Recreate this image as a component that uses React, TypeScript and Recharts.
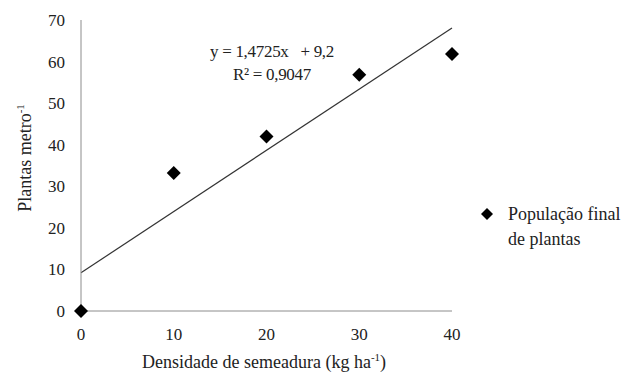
import React from "react";
import { ComposedChart, XAxis, YAxis, Scatter, ReferenceLine } from "recharts";

const densidade = [0, 10, 20, 30, 40];
const populacao = [0, 33.2, 42, 56.8, 61.8];
const xTicks = [0, 10, 20, 30, 40];
const yTicks = [0, 10, 20, 30, 40, 50, 60, 70];
const trendStart = { x: 0, y: 9.2 };
const trendEnd = { x: 40, y: 68.1 };

const data = densidade.map((x, i) => ({ x, y: populacao[i] }));

const FONT = "Liberation Serif";

const Diamond = (props: any) => {
  const { cx, cy } = props;
  const s = 7;
  return (
    <polygon
      points={`${cx},${cy - s} ${cx + s},${cy} ${cx},${cy + s} ${cx - s},${cy}`}
      fill="#000"
    />
  );
};

const sup = { fontSize: 11, verticalAlign: "7px", lineHeight: 0 } as const;

export default function App() {
  return (
    <div style={{ position: "absolute", left: 0, top: 0, width: 625, height: 374, background: "#fff", fontFamily: FONT }}>
      <ComposedChart
        width={625}
        height={374}
        data={data}
        margin={{ top: 20, right: 173, bottom: 33, left: 31 }}
        style={{ fontFamily: FONT }}
      >
        <XAxis
          type="number"
          dataKey="x"
          domain={[0, 40]}
          ticks={xTicks}
          tickLine={false}
          tickSize={0}
          tickMargin={17}
          axisLine={{ stroke: "#8c8c8c", strokeWidth: 1 }}
          tick={{ fill: "#222", fontSize: 17, fontFamily: FONT }}
          height={30}
        />
        <YAxis
          type="number"
          dataKey="y"
          domain={[0, 70]}
          ticks={yTicks}
          tickLine={false}
          tickSize={0}
          tickMargin={16}
          axisLine={{ stroke: "#8c8c8c", strokeWidth: 1 }}
          tick={{ fill: "#222", fontSize: 17, fontFamily: FONT }}
          width={50}
        />
        <ReferenceLine
          segment={[trendStart, trendEnd]}
          stroke="#333"
          strokeWidth={1.2}
          ifOverflow="visible"
        />
        <Scatter data={data} dataKey="y" shape={<Diamond />} isAnimationActive={false} />
      </ComposedChart>

      <div style={{ position: "absolute", left: 210, top: 41, fontSize: 17, color: "#222", whiteSpace: "pre", lineHeight: "22px", letterSpacing: "-0.3px" }}>
        {"y = 1,4725x   + 9,2"}
      </div>
      <div style={{ position: "absolute", left: 233, top: 64, fontSize: 17, color: "#222", whiteSpace: "pre", lineHeight: "22px", letterSpacing: "-0.3px" }}>
        {"R² = 0,9047"}
      </div>

      <div style={{ position: "absolute", left: 142, top: 351, fontSize: 18, color: "#222", whiteSpace: "pre", lineHeight: "22px" }}>
        Densidade de semeadura (kg ha<sup style={sup}>-1</sup>)
      </div>

      <div
        style={{
          position: "absolute",
          left: 25,
          top: 158,
          transform: "translate(-50%, -50%) rotate(-90deg)",
          fontSize: 18,
          color: "#222",
          whiteSpace: "pre",
          lineHeight: "22px",
        }}
      >
        Plantas metro<sup style={sup}>-1</sup>
      </div>

      <svg style={{ position: "absolute", left: 480, top: 207 }} width={14} height={14}>
        <polygon points="7,1 13,7 7,13 1,7" fill="#000" />
      </svg>
      <div style={{ position: "absolute", left: 508, top: 202, fontSize: 18, color: "#222", lineHeight: "25px", whiteSpace: "pre" }}>
        {"População final\nde plantas"}
      </div>
    </div>
  );
}
